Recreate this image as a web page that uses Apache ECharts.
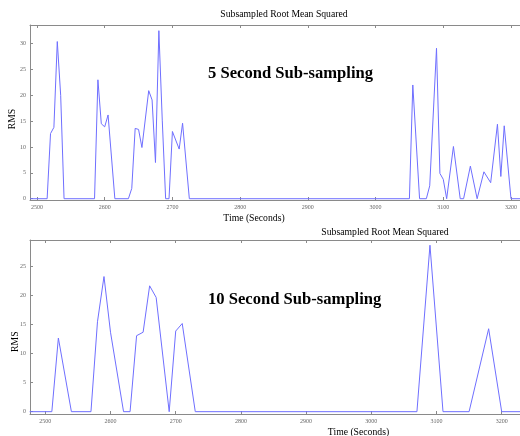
<!DOCTYPE html>
<html>
<head>
<meta charset="utf-8">
<script src="https://cdn.jsdelivr.net/npm/echarts@6/dist/echarts.min.js"></script>
<style>
  html, body { margin: 0; padding: 0; background: #fff; }
  #chart { width: 520px; height: 436px; }
</style>
</head>
<body>
<div id="chart"></div>
<script>
// == Data ====================================================================

// 5 second sub-sampling (vertices)
const times5 = [2490, 2515, 2520, 2525, 2530, 2535, 2540, 2585, 2590, 2595, 2600,
  2605, 2615, 2635, 2640, 2645, 2650, 2655, 2665, 2670, 2675, 2680, 2685, 2690,
  2695, 2700, 2710, 2715, 2725, 3050, 3055, 3065, 3075, 3080, 3090, 3095, 3100,
  3105, 3115, 3125, 3130, 3140, 3150, 3160, 3170, 3180, 3185, 3190, 3200, 3214]
const rms5 = [0, 0, 12.6, 13.8, 30.4, 20.0, 0, 0, 23.0, 14.5, 13.9,
  16.2, 0, 0, 2.0, 13.6, 13.4, 9.9, 20.9, 19.1, 7.0, 32.5, 15.2, 0,
  0, 13.0, 9.6, 14.6, 0, 0, 22.0, 0, 0, 2.5, 29.1, 4.9, 3.75,
  0, 10.1, 0, 0, 6.3, 0, 5.2, 3.1, 14.4, 4.3, 14.1, 0, 0]

// 10 second sub-sampling (bottom plot)
const times10 = [2476, 2510, 2520, 2540, 2570, 2580, 2590, 2600, 2620, 2630, 2640,
  2650, 2660, 2670, 2690, 2700, 2710, 2730, 3070, 3090, 3110, 3150, 3180, 3200, 3229]
const rms10 = [0, 0, 12.7, 0, 0, 15.5, 23.3, 13.7, 0, 0, 13.1,
  13.7, 21.7, 19.7, 0, 13.9, 15.2, 0, 0, 28.7, 0, 0, 14.3, 0, 0]

const timeTicks = [2500, 2600, 2700, 2800, 2900, 3000, 3100, 3200]
const rmsTicks5 = [0, 5, 10, 15, 20, 25, 30]
const rmsTicks10 = [0, 5, 10, 15, 20, 25]

// == Styles ==================================================================

const AXIS_COLOR = '#8a8a8a'
const LINE_COLOR = '#6f6fff'
const SERIF = '"Liberation Serif", "Times New Roman", serif'

function pairs (xs, ys) {
  return xs.map((x, i) => [x, ys[i]])
}

function plain (v) {
  return String(v)
}

function xAxisPair (gridIndex, min, max) {
  const base = {
    gridIndex,
    type: 'value',
    min,
    max,
    axisLine: {onZero: false, lineStyle: {color: AXIS_COLOR, width: 1}},
    axisTick: {inside: true, length: 3, lineStyle: {color: AXIS_COLOR}, customValues: timeTicks},
    splitLine: {show: false}
  }
  return [
    Object.assign({}, base, {
      position: 'bottom',
      axisLabel: {
        customValues: timeTicks, formatter: plain, fontSize: 6, color: '#666', margin: 4,
        fontFamily: SERIF
      }
    }),
    Object.assign({}, base, {position: 'top', axisLabel: {show: false}})
  ]
}

function yAxis (gridIndex, min, max, ticks) {
  return {
    gridIndex,
    type: 'value',
    min,
    max,
    axisLine: {show: true, onZero: false, lineStyle: {color: AXIS_COLOR, width: 1}},
    axisTick: {show: true, inside: true, length: 3, lineStyle: {color: AXIS_COLOR}, customValues: ticks},
    axisLabel: {customValues: ticks, formatter: plain, fontSize: 6, color: '#666', margin: 4, fontFamily: SERIF},
    splitLine: {show: false}
  }
}

function label (text, x, y, opts) {
  return Object.assign({
    type: 'text',
    x,
    y,
    style: {
      text,
      fill: '#000',
      font: (opts && opts.font) || ('9.7px ' + SERIF),
      align: (opts && opts.align) || 'center',
      verticalAlign: 'middle'
    }
  }, opts && opts.rotation ? {rotation: opts.rotation} : {})
}

// == Chart ===================================================================

const chart = echarts.init(document.getElementById('chart'))

chart.setOption({
  animation: false,
  backgroundColor: '#fff',
  grid: [
    {left: 30, top: 25, right: 0, height: 175},
    {left: 30, top: 240, right: 0, height: 174}
  ],
  xAxis: [].concat(
    xAxisPair(0, 2489.7, 3213.3),
    xAxisPair(1, 2476.5, 3228.1)
  ),
  yAxis: [
    yAxis(0, -0.25, 33.6, rmsTicks5),
    yAxis(1, -0.4, 29.6, rmsTicks10)
  ],
  series: [
    {
      type: 'line',
      xAxisIndex: 0,
      yAxisIndex: 0,
      data: pairs(times5, rms5),
      showSymbol: false,
      lineStyle: {color: LINE_COLOR, width: 1},
      itemStyle: {color: LINE_COLOR}
    },
    {
      type: 'line',
      xAxisIndex: 2,
      yAxisIndex: 1,
      data: pairs(times10, rms10),
      showSymbol: false,
      lineStyle: {color: LINE_COLOR, width: 1},
      itemStyle: {color: LINE_COLOR}
    }
  ],
  graphic: [
    label('Subsampled Root Mean Squared', 284, 14.5),
    label('Time (Seconds)', 254, 218.5),
    label('RMS', 12.5, 119, {rotation: Math.PI / 2}),
    label('5 Second Sub-sampling', 208, 73.3, {align: 'left', font: 'bold 16.6px ' + SERIF}),
    label('Subsampled Root Mean Squared', 385, 232.7),
    label('Time (Seconds)', 358.5, 432.5),
    label('RMS', 15, 341.7, {rotation: Math.PI / 2}),
    label('10 Second Sub-sampling', 208, 299.7, {align: 'left', font: 'bold 16.6px ' + SERIF})
  ]
})
</script>
</body>
</html>
